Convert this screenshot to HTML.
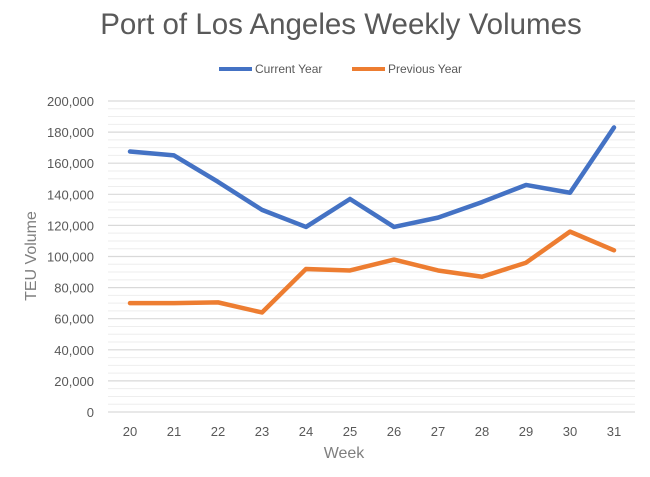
<!DOCTYPE html>
<html><head><meta charset="utf-8"><style>
body{margin:0;background:#fff;font-family:"Liberation Sans",sans-serif}
</style></head><body>
<svg id="c" width="650" height="472" xmlns="http://www.w3.org/2000/svg">
<rect width="650" height="472" fill="#fff"/>
<text x="341" y="34" text-anchor="middle" font-size="29.5" fill="#595959">Port of Los Angeles Weekly Volumes</text>
<g>
<line x1="219" y1="69" x2="252" y2="69" stroke="#4472C4" stroke-width="4"/>
<text x="255" y="73" font-size="12" fill="#595959">Current Year</text>
<line x1="352" y1="69" x2="385" y2="69" stroke="#ED7D31" stroke-width="4"/>
<text x="388" y="73" font-size="12" fill="#595959">Previous Year</text>
</g>
<text transform="translate(36,256) rotate(-90)" text-anchor="middle" font-size="16" fill="#7f7f7f">TEU Volume</text>
<text x="344" y="458" text-anchor="middle" font-size="16" fill="#7f7f7f">Week</text>
<g id="grid"></g><g id="yt"></g><g id="xt"></g><g id="lines"></g>
</svg>
<script>
const weeks=[20,21,22,23,24,25,26,27,28,29,30,31];
const currentYear=[167500,165000,148000,130000,119000,137000,119000,125000,135000,146000,141000,183000];
const previousYear=[70000,70000,70500,64000,92000,91000,98000,91000,87000,96000,116000,104000];
const yTicks=[0,20000,40000,60000,80000,100000,120000,140000,160000,180000,200000];
const NS="http://www.w3.org/2000/svg";
const x0=108,x1=635,y0=412,y1=101,yMax=200000;
const xs=i=>130+i*(614-130)/(weeks.length-1);
const ys=v=>y0-(v/yMax)*(y0-y1);
function mk(t,a,p){const e=document.createElementNS(NS,t);for(const k in a)e.setAttribute(k,a[k]);p.appendChild(e);return e;}
const g=document.getElementById('grid');
for(let v=0;v<=yMax;v+=5000){
 const l=mk('line',{x1:x0,x2:x1,y1:ys(v),y2:ys(v),stroke:v%20000===0?'#d9d9d9':'#eeeeee','stroke-width':v%20000===0?1.2:1},g);
 
 
}
const yt=document.getElementById('yt');
yTicks.forEach(v=>{const t=mk('text',{x:94,y:ys(v)+5,'text-anchor':'end','font-size':13,fill:'#595959'},yt);t.textContent=v.toLocaleString('en-US');
 
 });
const xt=document.getElementById('xt');
weeks.forEach((w,i)=>{const t=mk('text',{x:xs(i),y:436,'text-anchor':'middle','font-size':13,fill:'#595959'},xt);t.textContent=w;
 
 });
const lg=document.getElementById('lines');
[[previousYear,'#ED7D31','previous-year-line'],[currentYear,'#4472C4','current-year-line']].forEach(([d,c,n])=>{
 const p=mk('polyline',{points:d.map((v,i)=>xs(i)+','+ys(v)).join(' '),fill:'none',stroke:c,'stroke-width':4.5,'stroke-linejoin':'round','stroke-linecap':'round'},lg);
 
 
});
</script>
</body></html>
